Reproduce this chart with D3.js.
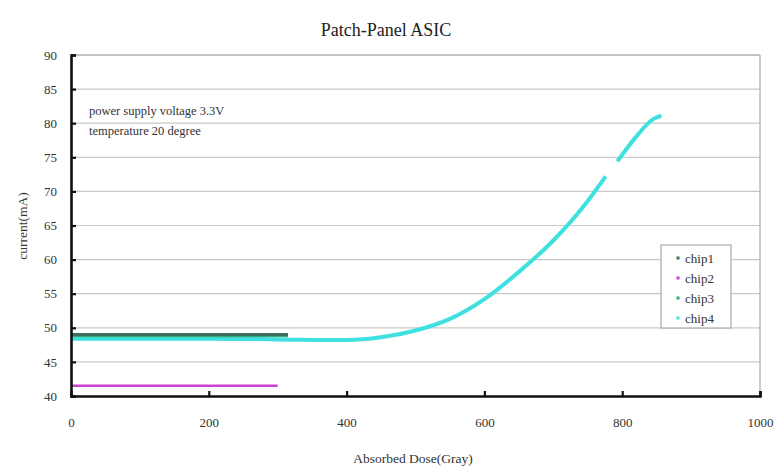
<!DOCTYPE html>
<html><head><meta charset="utf-8">
<script src="https://cdn.jsdelivr.net/npm/d3@7"></script>
<style>body{margin:0;background:#fff}svg{display:block}</style>
</head><body>
<svg id="c" width="781" height="469"></svg>
<script>
const xTicks = [0, 200, 400, 600, 800, 1000];
const yTicks = [40, 45, 50, 55, 60, 65, 70, 75, 80, 85, 90];
const seriesNames = ["chip1", "chip2", "chip3", "chip4"];
const seriesColors = ["#3d6e5c", "#d040d0", "#35a87e", "#3fe0e0"];
const chip1 = [[0, 49.0], [100, 49.0], [200, 49.0], [315, 49.0]];
const chip2 = [[0, 41.5], [100, 41.5], [200, 41.5], [300, 41.5]];
const chip3 = [[0, 48.8], [100, 48.8], [200, 48.8], [315, 48.8]];
const chip4 = [[0, 48.4], [200, 48.4], [300, 48.3], [400, 48.2], [450, 48.6], [500, 49.6],
  [550, 51.3], [600, 54.2], [650, 58.2], [700, 62.8], [750, 68.6], [776, 72.2], [785, null],
  [793, 74.4], [820, 78.0], [845, 80.6], [857, 81.1]];
const seriesData = [chip1, chip2, chip3, chip4];
const widths = [3, 2.5, 2.5, 4];

const svg = d3.select("#c");
const L = 71, R = 760, T = 55, B = 396;
const x = d3.scaleLinear().domain([0, 1000]).range([L, R]);
const y = d3.scaleLinear().domain([40, 90]).range([B, T]);
const serif = "'Liberation Serif','Times New Roman',serif";

// gridlines
svg.append("g").selectAll("line").data(yTicks.filter(v => v > 40 && v < 90)).join("line")
  .attr("x1", L).attr("x2", R).attr("y1", d => y(d)).attr("y2", d => y(d))
  .attr("stroke", "#c8c8c8").attr("stroke-width", 1.2);
// top & right frame
svg.append("line").attr("x1", L).attr("x2", R).attr("y1", T).attr("y2", T).attr("stroke", "#888").attr("stroke-width", 1.2);
svg.append("line").attr("x1", R).attr("x2", R).attr("y1", T).attr("y2", B).attr("stroke", "#aaa").attr("stroke-width", 1.2);

// series
const line = d3.line().defined(d => d[1] !== null).x(d => x(d[0])).y(d => y(d[1])).curve(d3.curveMonotoneX);
const order = [3, 2, 0, 1];
order.forEach(i => {
  svg.append("path").datum(seriesData[i]).attr("d", line).attr("fill", "none")
    .attr("stroke", seriesColors[i]).attr("stroke-width", widths[i]).attr("stroke-linecap", "butt");
});

// axes
const yAxis = d3.axisLeft(y).tickValues(yTicks).tickSize(-5).tickPadding(14).tickFormat(d3.format("d"));
const gy = svg.append("g").attr("transform", `translate(${L},0)`).call(yAxis);
const xAxis = d3.axisBottom(x).tickValues(xTicks).tickSize(-5).tickPadding(22).tickFormat(d3.format("d"));
const gx = svg.append("g").attr("transform", `translate(0,${B})`).call(xAxis);
[gy, gx].forEach(g => {
  g.select(".domain").attr("stroke", "#111").attr("stroke-width", 2.6);
  g.selectAll(".tick line").attr("stroke", "#111").attr("stroke-width", 2.2);
  g.selectAll("text").attr("font-family", serif).attr("font-size", 13).attr("fill", "#333");
});
gx.selectAll(".tick").filter(d => d === 0).select("line").remove();

// title and labels
svg.append("text").attr("x", 386).attr("y", 36).attr("text-anchor", "middle")
  .attr("font-family", serif).attr("font-size", 18).attr("fill", "#222").text("Patch-Panel ASIC");
svg.append("text").attr("x", 413).attr("y", 463).attr("text-anchor", "middle")
  .attr("font-family", serif).attr("font-size", 13.5).attr("fill", "#333").text("Absorbed Dose(Gray)");
svg.append("text").attr("transform", "translate(27,226) rotate(-90)").attr("text-anchor", "middle")
  .attr("font-family", serif).attr("font-size", 13.5).attr("fill", "#333").text("current(mA)");
svg.append("text").attr("x", 89).attr("y", 115).attr("font-family", serif).attr("font-size", 12.5)
  .attr("fill", "#333").text("power supply voltage 3.3V");
svg.append("text").attr("x", 89).attr("y", 135).attr("font-family", serif).attr("font-size", 12.5)
  .attr("fill", "#333").text("temperature 20 degree");

// legend
const lg = svg.append("g");
lg.append("rect").attr("x", 661).attr("y", 245).attr("width", 70).attr("height", 83)
  .attr("fill", "#fff").attr("stroke", "#aaa").attr("stroke-width", 1.2);
seriesNames.forEach((n, i) => {
  const cy = 258 + i * 20;
  lg.append("rect").attr("x", 676.5).attr("y", cy - 1.5).attr("width", 3).attr("height", 3).attr("fill", seriesColors[i]);
  lg.append("text").attr("x", 685).attr("y", cy + 4.5).attr("font-family", serif).attr("font-size", 13)
    .attr("fill", "#333").text(n);
});
</script>
</body></html>
